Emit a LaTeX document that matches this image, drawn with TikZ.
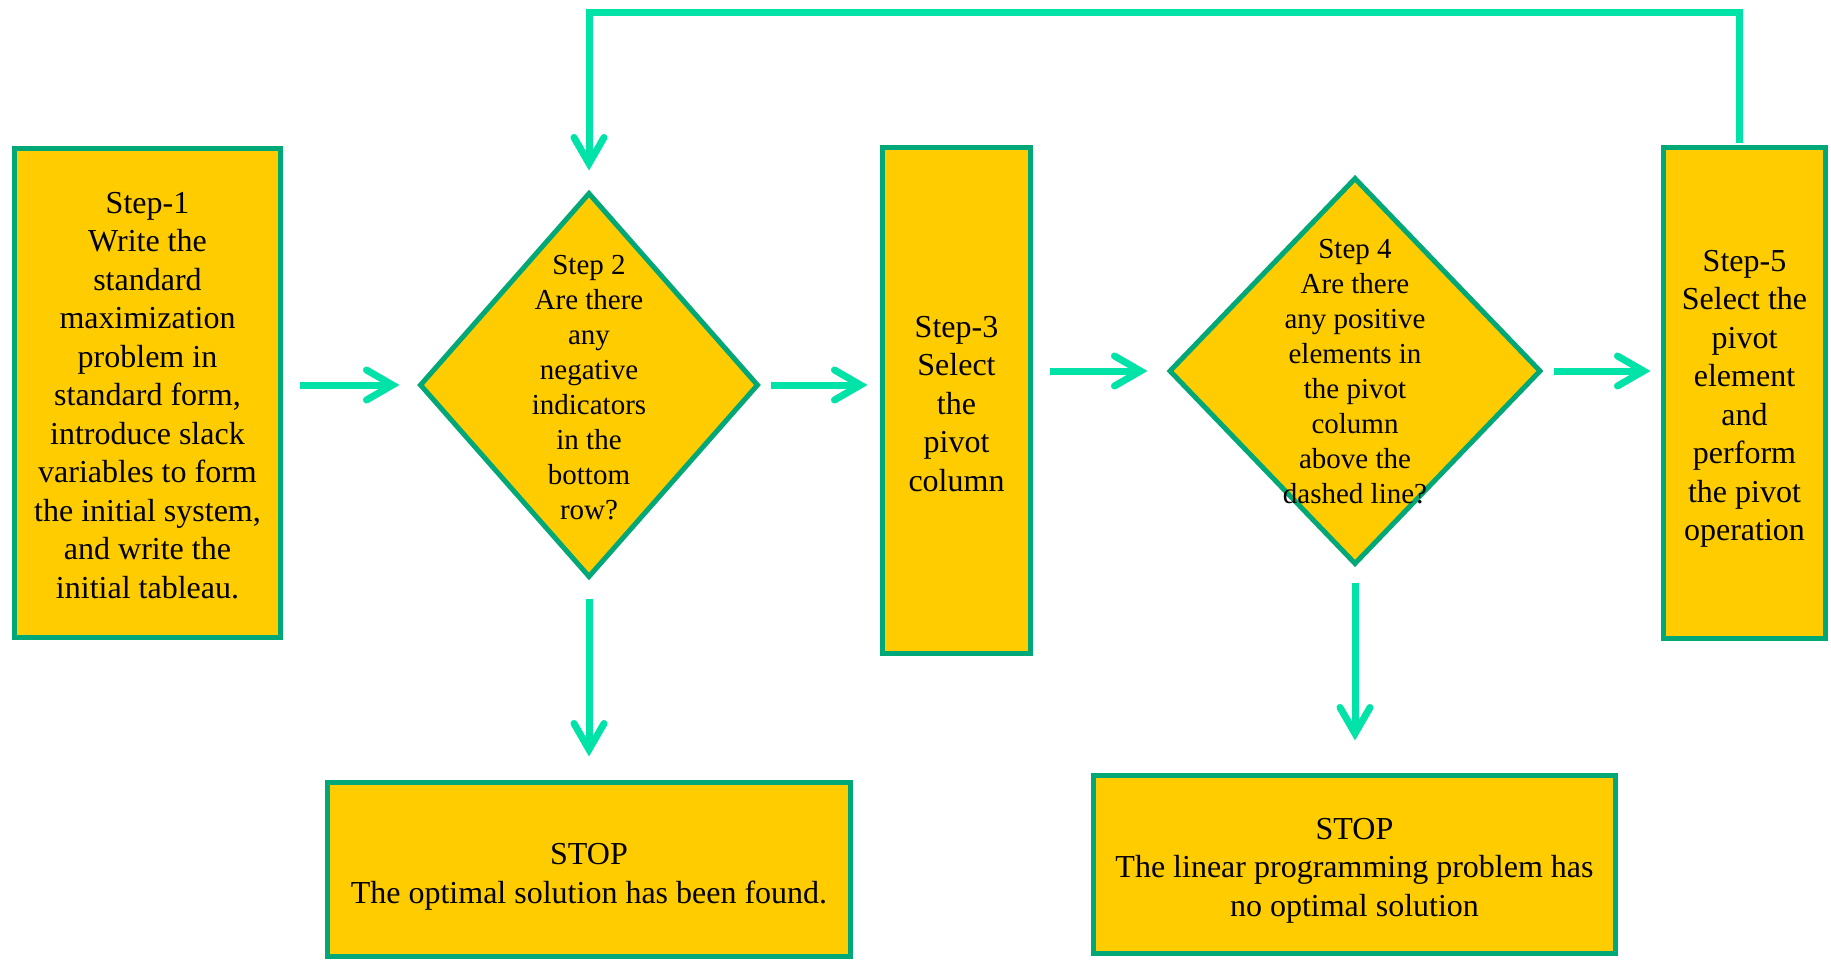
\documentclass[tikz,border=0pt]{standalone}
\usepackage{fontspec}
\setmainfont{Liberation Serif}
\usetikzlibrary{shapes.geometric,arrows.meta}
\definecolor{arrowgreen}{HTML}{00E3A8}
\definecolor{bordergreen}{HTML}{00A878}
\definecolor{boxfill}{HTML}{FFCC00}
\tikzset{
  boxnode/.style={rectangle, draw=bordergreen, fill=boxfill, line width=5pt, inner sep=0pt},
  btext/.style={align=center, inner sep=0pt, font=\fontsize{32}{38.5}\selectfont},
  dnode/.style={diamond, draw=bordergreen, fill=boxfill, line width=5pt, inner sep=0pt, line join=miter},
  dtext/.style={align=center, inner sep=0pt, font=\fontsize{29}{35}\selectfont},
  arr/.style={draw=arrowgreen, line width=7pt, -{Straight Barb[length=26pt, width=30pt, line cap=round]}},
  loopline/.style={draw=arrowgreen, line width=7pt, line join=miter, -{Straight Barb[length=26pt, width=30pt, line cap=round]}}
}
\begin{document}
\begin{tikzpicture}[x=1pt, y=-1pt]
\useasboundingbox (0,0) rectangle (1831,959);
% shapes
\node[boxnode, minimum width=266pt, minimum height=489pt] (b1) at (147.5,393) {};
\node[btext] (b1t) at (147.5,395.5) {Step-1\\Write the\\standard\\maximization\\problem in\\standard form,\\introduce slack\\variables to form\\the initial system,\\and write the\\initial tableau.};
\node[dnode, minimum width=339pt, minimum height=385pt] (d2) at (589,385) {};
\node[dtext] (d2t) at (589,388) {Step 2\\Are there\\any\\negative\\indicators\\in the\\bottom\\row?};
\node[boxnode, minimum width=148pt, minimum height=506pt] (b3) at (956.5,400.5) {};
\node[btext] (b3t) at (956.5,404) {Step-3\\Select\\the\\pivot\\column};
\node[dnode, minimum width=372pt, minimum height=387pt] (d4) at (1355,371) {};
\node[dtext] (d4t) at (1355,372) {Step 4\\Are there\\any positive\\elements in\\the pivot\\column\\above the\\dashed line?};
\node[boxnode, minimum width=162pt, minimum height=491pt] (b5) at (1744.5,393) {};
\node[btext] (b5t) at (1744.5,399) {Step-5\\Select the\\pivot\\element\\and\\perform\\the pivot\\operation};
\node[boxnode, minimum width=523pt, minimum height=174pt] (s1) at (589,869) {};
\node[btext] (s1t) at (589,877) {STOP\\The optimal solution has been found.};
\node[boxnode, minimum width=522pt, minimum height=178pt] (s2) at (1354.5,864.5) {};
\node[btext] (s2t) at (1354.5,870.5) {STOP\\The linear programming problem has\\no optimal solution};
% connectors
\draw[arr, shorten <=16.5pt, shorten >=17.5pt] (b1.east |- d2.west) -- (d2.west);
\draw[arr, shorten <=9.5pt, shorten >=12.5pt] (d2.east) -- (d2.east -| b3.west);
\draw[arr, shorten <=16.5pt, shorten >=19pt] (b3.east |- d4.west) -- (d4.west);
\draw[arr, shorten <=10pt, shorten >=10.5pt] (d4.east) -- (d4.east -| b5.west);
\draw[arr, shorten <=18.5pt, shorten >=23pt] (d2.south) -- (s1.north);
\draw[arr, shorten <=15.5pt, shorten >=32.5pt] (d4.south) -- (d4.south |- s2.north);
\coordinate (looptop) at (0,12);
\draw[loopline, shorten <=2.5pt, shorten >=19.5pt] ([xshift=-5pt]b5.north) -- ([xshift=-5pt]b5.north |- looptop) -- (d2.north |- looptop) -- (d2.north);
\end{tikzpicture}
\end{document}
